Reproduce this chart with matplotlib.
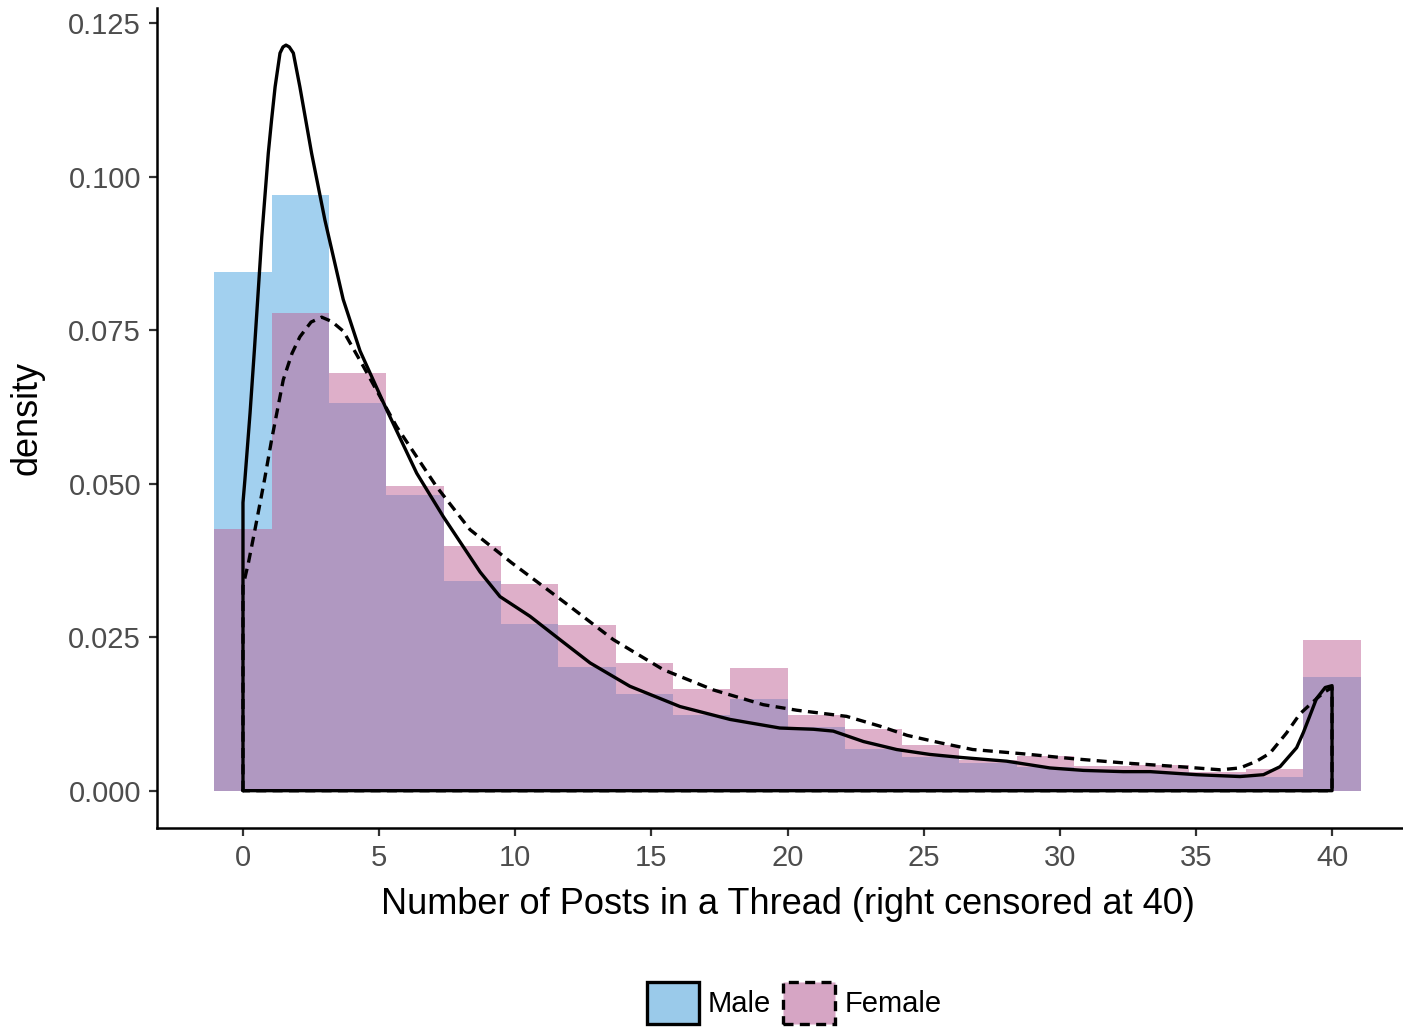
import numpy as np
import matplotlib
matplotlib.use("Agg")
import matplotlib.pyplot as plt
from matplotlib.patches import Patch

plt.rcParams['font.family'] = ['Liberation Sans', 'DejaVu Sans']

# Histogram: 20 bins centred on 0 .. 40 (bin width 40/19)
bin_centers = [40 / 19 * k for k in range(20)]
male_hist = [0.0845, 0.0970, 0.0632, 0.0482, 0.0342, 0.0271, 0.0202, 0.0157,
             0.0124, 0.0150, 0.0103, 0.0068, 0.0055, 0.0045, 0.0038, 0.0034,
             0.0031, 0.0027, 0.0022, 0.0185]
female_hist = [0.0426, 0.0778, 0.0680, 0.0496, 0.0399, 0.0336, 0.0269, 0.0208,
               0.0166, 0.0199, 0.0123, 0.0101, 0.0074, 0.0050, 0.0057, 0.0040,
               0.0042, 0.0030, 0.0035, 0.0246]

# Kernel density estimates (0 .. 40)
male_dens_x = [0, 0.07, 0.26, 0.42, 0.69, 0.93, 1.05, 1.18, 1.36, 1.47, 1.58,
               1.70, 1.85, 2.09, 2.52, 3.01, 3.68, 4.30, 5.28, 6.38, 7.36, 8.71,
               9.44, 10.54, 11.64, 12.75, 14.21, 16.05, 17.89, 19.72, 20.95,
               21.68, 22.79, 24.01, 25.23, 26.40, 28.05, 29.64, 30.87, 32.33,
               33.32, 35.03, 36.62, 37.48, 38.09, 38.70, 38.95, 39.43, 39.75, 40]
male_dens_y = [0.0469, 0.0506, 0.0615, 0.0718, 0.0902, 0.1038, 0.1092, 0.1146,
               0.1201, 0.1211, 0.1214, 0.1211, 0.1201, 0.1146, 0.1038, 0.0929,
               0.0800, 0.0716, 0.0620, 0.0517, 0.0446, 0.0356, 0.0316, 0.0284,
               0.0246, 0.0208, 0.0170, 0.0137, 0.0116, 0.0102, 0.0100, 0.0097,
               0.0080, 0.0067, 0.0059, 0.0054, 0.0048, 0.0037, 0.0033, 0.0031,
               0.0031, 0.0026, 0.0023, 0.0026, 0.0039, 0.0070, 0.0095, 0.0150,
               0.0168, 0.0171]
female_dens_x = [0, 0.20, 0.44, 0.79, 1.05, 1.48, 1.80, 2.09, 2.50, 2.89, 3.26,
                 3.69, 4.42, 5.64, 7.11, 8.34, 9.87, 11.83, 13.60, 15.44,
                 17.28, 19.11, 20.34, 22.17, 23.40, 24.40, 25.60, 26.80, 28.66,
                 30.50, 32.40, 34.42, 35.89, 36.62, 37.23, 37.72, 38.33, 38.82,
                 39.31, 39.70, 40]
female_dens_y = [0.0333, 0.0371, 0.0425, 0.0506, 0.0571, 0.0669, 0.0712, 0.0739,
                 0.0763, 0.0771, 0.0764, 0.0748, 0.0691, 0.0593, 0.0495, 0.0425,
                 0.0371, 0.0306, 0.0246, 0.0197, 0.0164, 0.0140, 0.0131, 0.0121,
                 0.0105, 0.0090, 0.0078, 0.0067, 0.0060, 0.0052, 0.0045, 0.0039,
                 0.0034, 0.0037, 0.0048, 0.0061, 0.0094, 0.0125, 0.0145, 0.0160,
                 0.0168]

x_ticks = [0, 5, 10, 15, 20, 25, 30, 35, 40]
y_ticks = [0.000, 0.025, 0.050, 0.075, 0.100, 0.125]
groups = ["Male", "Female"]

male_fill = "#47A3E1"
female_fill = "#BF6195"
text_grey = "#4D4D4D"

fig = plt.figure(figsize=(14.03, 10.33), dpi=100)
ax = fig.add_axes([0.1119, 0.1985, 0.8988, 0.7941])

bw = 40 / 19
ax.bar(bin_centers, male_hist, width=bw, color=male_fill, alpha=0.5,
       linewidth=0, zorder=1)
ax.bar(bin_centers, female_hist, width=bw, color=female_fill, alpha=0.5,
       linewidth=0, zorder=2)


def closed_outline(xs, ys):
    # density outline closed along the baseline, as a polygon
    px = [xs[0]] + list(xs) + [xs[-1], xs[0]]
    py = [0] + list(ys) + [0, 0]
    return px, py


mx, my = closed_outline(male_dens_x, male_dens_y)
fx, fy = closed_outline(female_dens_x, female_dens_y)
ax.plot(mx, my, color="black", lw=2.4, solid_joinstyle="round",
        solid_capstyle="round", zorder=3)
ax.plot(fx, fy, color="black", lw=2.4, dashes=(3.0, 1.9),
        dash_joinstyle="round", zorder=4)

ax.set_xlim(-3.158, 43.158)
ax.set_ylim(-0.00607, 0.1275)
ax.set_xticks(x_ticks)
ax.set_xticklabels([str(t) for t in x_ticks])
ax.set_yticks(y_ticks)
ax.set_yticklabels([f"{t:.3f}" for t in y_ticks])

for side in ("top", "right"):
    ax.spines[side].set_visible(False)
for side in ("left", "bottom"):
    ax.spines[side].set_linewidth(1.8)
    ax.spines[side].set_color("black")

ax.tick_params(axis="both", which="major", length=5.5, width=1.6,
               color="#333333", labelcolor=text_grey, labelsize=21, pad=6)

ax.set_xlabel("Number of Posts in a Thread (right censored at 40)",
              fontsize=26, color="black", labelpad=11)
ax.set_ylabel("density", fontsize=26, color="black", labelpad=17)

handles = [
    Patch(facecolor="#9ACAEA", edgecolor="black", linewidth=2.4, label=groups[0]),
    Patch(facecolor="#D6A5C4", edgecolor="black", linewidth=2.4,
          linestyle=(0, (3.0, 1.9)), label=groups[1]),
]
fig.legend(handles=handles, loc="center", bbox_to_anchor=(0.566, 0.029),
           ncol=2, frameon=False, fontsize=21, handlelength=1.8,
           handleheight=1.8, handletextpad=0.3, columnspacing=0.4,
           borderpad=0, borderaxespad=0)

fig.savefig("out.png", dpi=100)
